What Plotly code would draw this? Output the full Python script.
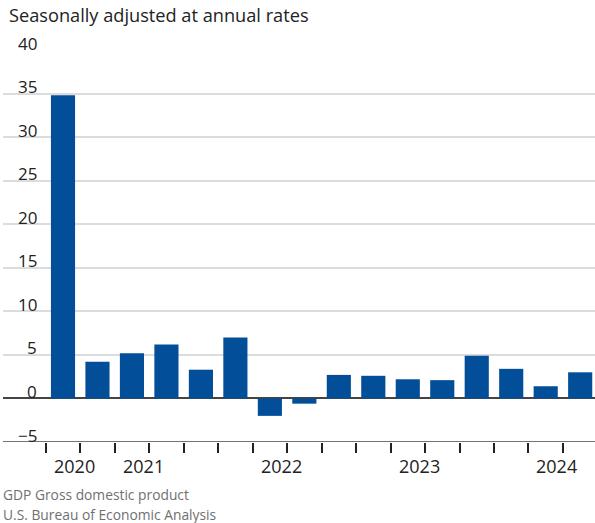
import plotly.graph_objects as go

categories = ["2020 Q3", "2020 Q4", "2021 Q1", "2021 Q2", "2021 Q3", "2021 Q4",
              "2022 Q1", "2022 Q2", "2022 Q3", "2022 Q4", "2023 Q1", "2023 Q2",
              "2023 Q3", "2023 Q4", "2024 Q1", "2024 Q2"]
values = [34.8, 4.2, 5.2, 6.2, 3.3, 7.0, -2.0, -0.6, 2.7, 2.6, 2.2, 2.1, 4.9, 3.4, 1.4, 3.0]
ytick_vals = [-5, 0, 5, 10, 15, 20, 25, 30, 35, 40]
ytick_text = ["\u22125", "0", "5", "10", "15", "20", "25", "30", "35", "40"]

FONT = "Open Sans"
BAR = "#024e99"

xs = list(range(len(categories)))
years = [c.split()[0] for c in categories]
year_starts = []
for i, y in enumerate(years):
    if i == 0 or years[i - 1] != y:
        year_starts.append((y, i - 0.5))
major = [p for _, p in year_starts[1:]]
minor = [i - 0.5 for i in xs]

TOP, BOTTOM = 50, 81
PLOT_H = 523 - TOP - BOTTOM

def paper_y(px):
    return (523 - BOTTOM - px) / PLOT_H

fig = go.Figure()
fig.add_trace(go.Bar(x=xs, y=values, marker=dict(color=BAR, line=dict(width=0)),
                     width=0.7, hoverinfo="skip"))

fig.update_layout(
    width=595, height=523,
    margin=dict(l=3, r=0, t=TOP, b=BOTTOM),
    paper_bgcolor="white", plot_bgcolor="white",
    showlegend=False,
    font=dict(family=FONT, color="#222"),
    title=dict(text="Seasonally adjusted at annual rates", xref="container", yref="container",
               x=9 / 595, xanchor="left", y=1 - 16 / 523, yanchor="middle",
               font=dict(family=FONT, size=18.2, color="#222")),
    bargap=0.3,
)
fig.update_xaxes(range=[-1.74, 15.43], showgrid=False, zeroline=False,
                 showline=False, tickmode="array", tickvals=major, ticktext=[""] * len(major),
                 ticks="outside", ticklen=30, tickwidth=1.5, tickcolor="#222",
                 minor=dict(tickmode="array", tickvals=minor, ticks="outside", ticklen=10,
                            tickwidth=1.5, tickcolor="#222", showgrid=False),
                 fixedrange=True)
fig.update_yaxes(range=[-5, 40], tickvals=ytick_vals, showticklabels=False,
                 showgrid=True, gridcolor="#dcdcdc", gridwidth=1.5,
                 zeroline=True, zerolinecolor="#444", zerolinewidth=2,
                 showline=False, fixedrange=True)

fig.add_hline(y=ytick_vals[0], line=dict(color="#444", width=1.5), layer="above")

for v, t in zip(ytick_vals, ytick_text):
    fig.add_annotation(x=0.061, xref="paper", y=v, yref="y", text=t, showarrow=False,
                       xanchor="right", yanchor="middle", yshift=7,
                       font=dict(family=FONT, size=17, color="#222"))

for y, p in year_starts:
    fig.add_annotation(x=p, xref="x", y=paper_y(466), yref="paper", text=y, showarrow=False,
                       xanchor="left", yanchor="middle", xshift=6,
                       font=dict(family=FONT, size=18, color="#222"))

fig.add_annotation(x=0, xref="paper", y=paper_y(494), yref="paper", yanchor="middle",
                   xanchor="left", xshift=-2, text="GDP Gross domestic product", showarrow=False,
                   font=dict(family=FONT, size=13.8, color="#707070"))
fig.add_annotation(x=0, xref="paper", y=paper_y(514), yref="paper", yanchor="middle",
                   xanchor="left", xshift=-2, text="U.S. Bureau of Economic Analysis", showarrow=False,
                   font=dict(family=FONT, size=13.8, color="#707070"))

fig.write_html("out.html")
